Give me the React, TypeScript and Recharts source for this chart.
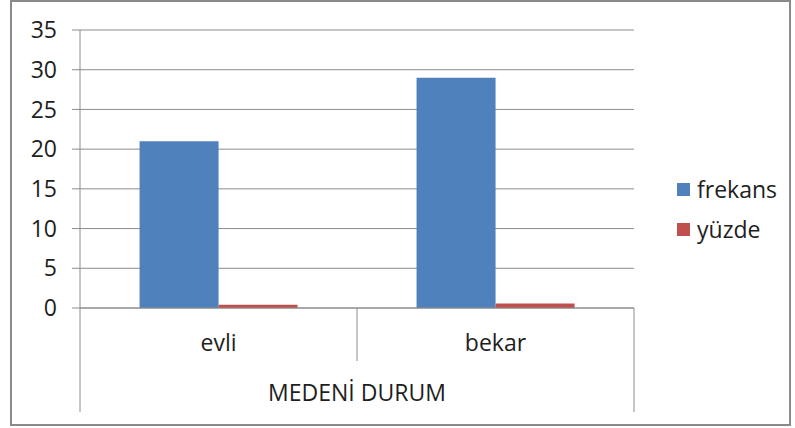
import { Bar, BarChart, CartesianGrid, Legend, XAxis, YAxis } from "recharts";

const categories = ["evli", "bekar"];
const frekans = [21, 29];
const yuzde = [0.42, 0.58];
const yTicks = [0, 5, 10, 15, 20, 25, 30, 35];
const axisTitle = "MEDENİ DURUM";

const data = categories.map((c, i) => ({ name: c, frekans: frekans[i], yüzde: yuzde[i] }));

const W = 777;
const H = 422;
const margin = { top: 28, right: 155, bottom: 0, left: 0 };
const yAxisWidth = 68;
const plotW = W - margin.left - margin.right - yAxisWidth;
const halfBand = plotW / categories.length / 2;

const GRAY = "#8c8c8c";
const TEXT = "#1e1e1e";
const FONT = 23;

function CategoryTick(props: any) {
  const { x, y, payload, index } = props;
  const last = index === categories.length - 1;
  return (
    <g>
      {index === 0 && <line x1={x - halfBand} x2={x - halfBand} y1={y} y2={y + 104} stroke={GRAY} />}
      <line x1={x + halfBand} x2={x + halfBand} y1={y} y2={y + (last ? 104 : 53)} stroke={GRAY} />
      <text x={x} y={y + 35} dy="0.35em" textAnchor="middle" fill={TEXT} fontSize={FONT}>
        {payload.value}
      </text>
    </g>
  );
}

function GroupLabel(props: any) {
  const vb = props.viewBox;
  return (
    <text x={vb.x + vb.width / 2} y={vb.y + 85} dy="0.35em" textAnchor="middle" fill={TEXT} fontSize={FONT}>
      {axisTitle}
    </text>
  );
}

function LegendBox(props: any) {
  const items = props.payload || [];
  return (
    <div>
      {items.map((it: any) => (
        <div key={it.value} style={{ height: 40, display: "flex", alignItems: "center", color: TEXT, fontSize: FONT }}>
          <span style={{ width: 13, height: 13, background: it.color, marginRight: 7, display: "inline-block" }} />
          {it.value}
        </div>
      ))}
    </div>
  );
}

export default function App() {
  return (
    <div
      style={{
        position: "absolute",
        left: 10,
        top: 0,
        border: "2px solid #8a8a8a",
        background: "#fff",
        fontFamily: "'Open Sans', sans-serif",
      }}
    >
      <BarChart width={W} height={H} data={data} margin={margin} barCategoryGap="21.5%" barGap={0}>
        <CartesianGrid vertical={false} stroke={GRAY} />
        <XAxis
          dataKey="name"
          height={H - 306}
          stroke={GRAY}
          tickLine={false}
          tickSize={0}
          tickMargin={0}
          tick={<CategoryTick />}
          label={<GroupLabel />}
        />
        <YAxis
          width={yAxisWidth}
          domain={[0, 35]}
          ticks={yTicks}
          stroke={GRAY}
          tickSize={8}
          tickMargin={15}
          tick={{ fill: TEXT, fontSize: FONT }}
        />
        <Legend
          layout="horizontal"
          align="center"
          verticalAlign="middle"
          content={<LegendBox />}
          wrapperStyle={{ left: 665, top: 167, width: 110 }}
        />
        <Bar dataKey="frekans" fill="#4F81BD" isAnimationActive={false} />
        <Bar dataKey="yüzde" fill="#C0504D" isAnimationActive={false} />
      </BarChart>
    </div>
  );
}
